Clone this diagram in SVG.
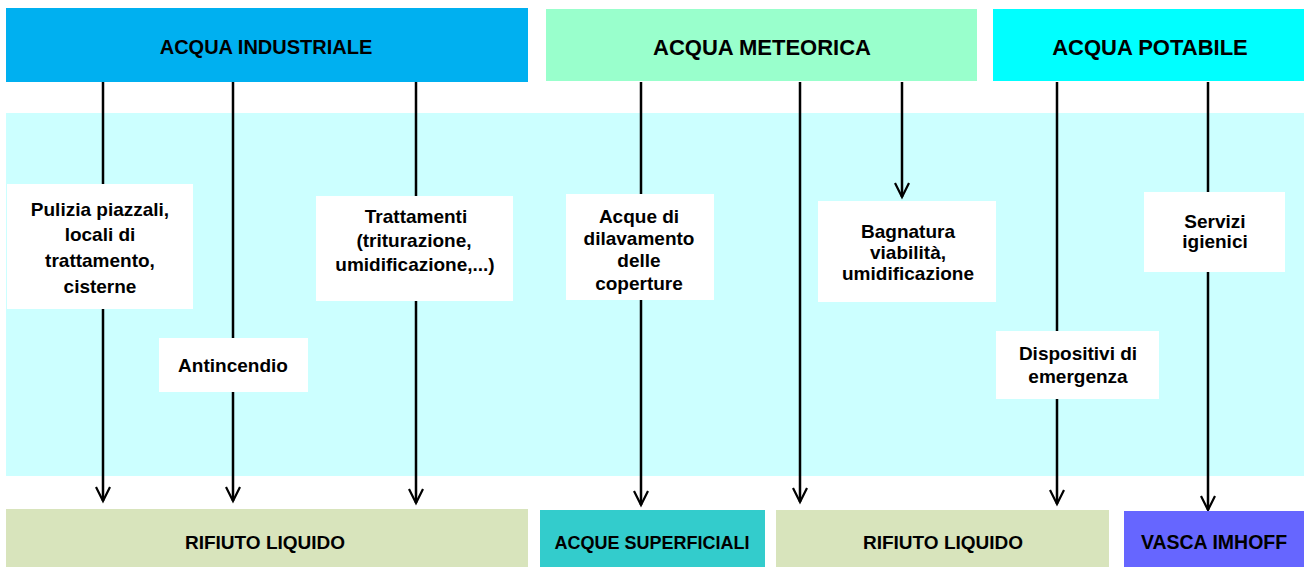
<svg xmlns="http://www.w3.org/2000/svg" width="1304" height="567" viewBox="0 0 1304 567">
<defs>
<style>
text{font-family:"Liberation Sans",Arial,sans-serif;font-weight:bold;fill:#000;text-anchor:middle}
.t{font-size:19px}
.ln{stroke:#000;stroke-width:2.5;fill:none}
.box{fill:#fff}
.ah{fill:none;stroke:#000;stroke-width:2.2}
</style>
</defs>
<rect width="1304" height="567" fill="#fff"/>
<rect id="bg" x="6" y="113" width="1298" height="363" fill="#CCFFFF"/>

<g id="connectors">
<line class="ln" x1="103" y1="82" x2="103" y2="501"/>
<line class="ln" x1="233" y1="82" x2="233" y2="501"/>
<line class="ln" x1="416" y1="82" x2="416" y2="503"/>
<line class="ln" x1="641" y1="82" x2="641" y2="505"/>
<line class="ln" x1="800" y1="82" x2="800" y2="502"/>
<line class="ln" x1="902" y1="82" x2="902" y2="197"/>
<line class="ln" x1="1057" y1="82" x2="1057" y2="504"/>
<line class="ln" x1="1208" y1="82" x2="1208" y2="510"/>
<path class="ah" d="M96,487 L103,501 L110,487"/>
<path class="ah" d="M226,487 L233,501 L240,487"/>
<path class="ah" d="M409,489 L416,503 L423,489"/>
<path class="ah" d="M634,491 L641,505 L648,491"/>
<path class="ah" d="M793,488 L800,502 L807,488"/>
<path class="ah" d="M895,183 L902,197 L909,183"/>
<path class="ah" d="M1050,490 L1057,504 L1064,490"/>
<path class="ah" d="M1201,496 L1208,510 L1215,496"/>
</g>

<g id="n-industriale"><rect x="6" y="8" width="522" height="74" fill="#00B0F0"/><text x="266" y="54" font-size="20">ACQUA INDUSTRIALE</text></g>
<g id="n-meteorica"><rect x="546" y="9" width="431" height="72" fill="#99FFCC"/><text x="762" y="55" font-size="22">ACQUA METEORICA</text></g>
<g id="n-potabile"><rect x="993" y="9" width="311" height="72" fill="#00FFFF"/><text x="1150" y="55" font-size="22">ACQUA POTABILE</text></g>

<g id="n-pulizia"><rect class="box" x="7" y="184" width="186" height="125"/>
<text class="t" x="100" y="216" font-size="18.5">Pulizia piazzali,</text>
<text class="t" x="100" y="241">locali di</text>
<text class="t" x="100" y="267">trattamento,</text>
<text class="t" x="100" y="293">cisterne</text></g>
<g id="n-antincendio"><rect class="box" x="159" y="338" width="149" height="54"/>
<text class="t" x="233" y="372">Antincendio</text></g>
<g id="n-trattamenti"><rect class="box" x="316" y="196" width="197" height="105"/>
<text class="t" x="416" y="223">Trattamenti</text>
<text class="t" x="414" y="247">(triturazione,</text>
<text class="t" x="415" y="271">umidificazione,...)</text></g>
<g id="n-dilavamento"><rect class="box" x="566" y="194" width="148" height="106"/>
<text class="t" x="639" y="223">Acque di</text>
<text class="t" x="639" y="245">dilavamento</text>
<text class="t" x="639" y="267">delle</text>
<text class="t" x="639" y="290">coperture</text></g>
<g id="n-bagnatura"><rect class="box" x="818" y="201" width="178" height="101"/>
<text class="t" x="908" y="238">Bagnatura</text>
<text class="t" x="908" y="259">viabilità,</text>
<text class="t" x="908" y="280">umidificazione</text></g>
<g id="n-dispositivi"><rect class="box" x="996" y="331" width="163" height="68"/>
<text class="t" x="1078" y="360">Dispositivi di</text>
<text class="t" x="1078" y="383">emergenza</text></g>
<g id="n-servizi"><rect class="box" x="1144" y="192" width="141" height="80"/>
<text class="t" x="1215" y="228">Servizi</text>
<text class="t" x="1215" y="248">igienici</text></g>

<g id="n-rifiuto1"><rect x="6" y="509" width="522" height="58" fill="#D8E4BC"/><text x="265" y="549" font-size="19">RIFIUTO LIQUIDO</text></g>
<g id="n-superficiali"><rect x="540" y="510" width="225" height="57" fill="#33CCCC"/><text x="652" y="549" font-size="18">ACQUE SUPERFICIALI</text></g>
<g id="n-rifiuto2"><rect x="776" y="510" width="333" height="57" fill="#D8E4BC"/><text x="943" y="549" font-size="19">RIFIUTO LIQUIDO</text></g>
<g id="n-imhoff"><rect x="1124" y="511" width="180" height="56" fill="#6666FF"/><text x="1214" y="549" font-size="19.5">VASCA IMHOFF</text></g>
</svg>
